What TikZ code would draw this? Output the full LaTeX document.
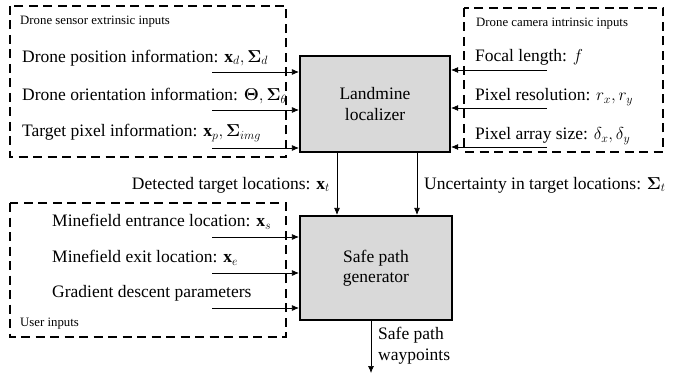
\documentclass[tikz,border=0pt]{standalone}
\usepackage{amsmath}
\usepackage{bm}
\usepackage{fontspec}
\setmainfont{Liberation Serif}
\usetikzlibrary{arrows.meta}
\begin{document}
\begin{tikzpicture}[x=1pt,y=-1pt,
  grp/.style={draw,line width=2.6pt,dash pattern=on 9pt off 5.5pt},
  blk/.style={draw,line width=2.2pt,fill=black!15,font=\fontsize{17.5}{20.5}\selectfont,align=center,inner sep=0pt},
  lbl/.style={font=\fontsize{17.5}{20.5}\selectfont,inner sep=0pt,anchor=west},
  sml/.style={font=\fontsize{12.8}{14}\selectfont,inner sep=0pt,anchor=west},
  arr/.style={-{Latex[length=7pt,width=6pt]},line width=0.7pt}]
\useasboundingbox (0,0) rectangle (676,374);
% group boxes
\draw[grp] (10,6) rectangle (286,157);
\draw[grp] (464,8) rectangle (663,152);
\draw[grp] (10,203) rectangle (286,337);
% blocks
\node[blk,minimum width=150pt,minimum height=96pt] (loc) at (375,104) {Landmine\\localizer};
\node[blk,minimum width=152pt,minimum height=104pt] (safe) at (376,268) {Safe path\\generator};
% group titles
\node[sml] (t1) at (20,22) {Drone sensor extrinsic inputs};
\node[sml] (t2) at (476,24) {Drone camera intrinsic inputs};
\node[sml] (t3) at (20,324) {User inputs};
% left top inputs
\node[lbl] (a1) at (22,58) {Drone position information: $\mathbf{x}_d,\bm{\Sigma}_d$};
\node[lbl] (a2) at (22,96) {Drone orientation information: $\bm{\Theta},\bm{\Sigma}_\theta$};
\node[lbl] (a3) at (22,133) {Target pixel information: $\mathbf{x}_p,\bm{\Sigma}_{img}$};
\coordinate (s1) at (212,72);
\coordinate (s2) at (212,110);
\coordinate (s3) at (212,148);
\draw[arr] (s1) -- (s1 -| loc.west);
\draw[arr] (s2) -- (s2 -| loc.west);
\draw[arr] (s3) -- (s3 -| loc.west);
% right inputs
\node[lbl] (b1) at (475,57) {Focal length: $f$};
\node[lbl] (b2) at (475,97) {Pixel resolution: $r_x,r_y$};
\node[lbl] (b3) at (475,136) {Pixel array size: $\delta_x,\delta_y$};
\coordinate (r1) at (547,70);
\coordinate (r2) at (547,108);
\coordinate (r3) at (547,147);
\draw[arr] (r1) -- (r1 -| loc.east);
\draw[arr] (r2) -- (r2 -| loc.east);
\draw[arr] (r3) -- (r3 -| loc.east);
% between blocks
\coordinate (v1) at (337,0);
\coordinate (v2) at (417,0);
\draw[arr] (v1 |- loc.south) -- (v1 |- safe.north);
\draw[arr] (v2 |- loc.south) -- (v2 |- safe.north);
\node[lbl,anchor=east] (dt) at (330,185) {Detected target locations: $\mathbf{x}_t$};
\node[lbl] (ut) at (424,185) {Uncertainty in target locations: $\bm{\Sigma}_t$};
% user inputs
\node[lbl] (c1) at (52,222) {Minefield entrance location: $\mathbf{x}_s$};
\node[lbl] (c2) at (52,258) {Minefield exit location: $\mathbf{x}_e$};
\node[lbl] (c3) at (52,293) {Gradient descent parameters};
\coordinate (u1) at (212,237);
\coordinate (u2) at (212,273);
\coordinate (u3) at (212,308);
\draw[arr] (u1) -- (u1 -| safe.west);
\draw[arr] (u2) -- (u2 -| safe.west);
\draw[arr] (u3) -- (u3 -| safe.west);
% output
\coordinate (out) at (371,373);
\draw[arr] (out |- safe.south) -- (out);
\node[lbl,align=left,anchor=north west] (wp) at (378,327) {Safe path\\waypoints};
\end{tikzpicture}
\end{document}
